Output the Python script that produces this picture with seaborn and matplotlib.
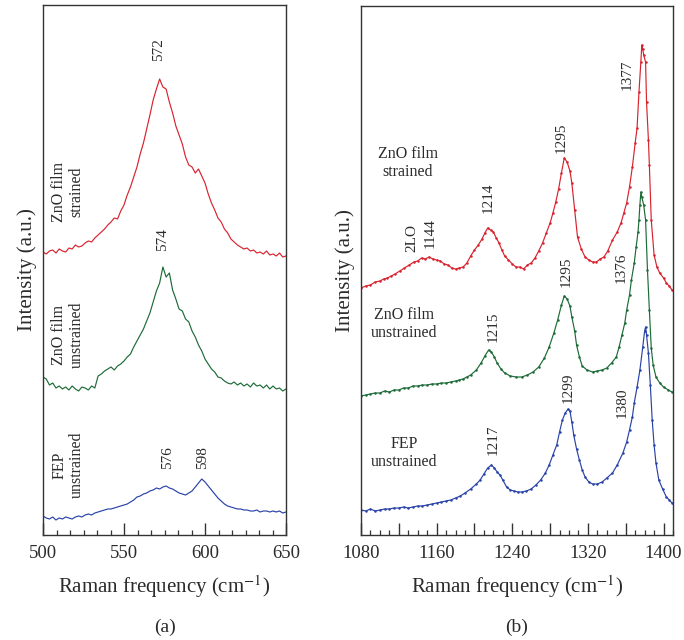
import numpy as np
import pandas as pd
import matplotlib
matplotlib.use("Agg")
import matplotlib.pyplot as plt
from matplotlib.ticker import MultipleLocator, FuncFormatter
import seaborn as sns

# ---------------- data: panel (a) ----------------
a_wave = list(range(500, 651, 2))
a_strained = [283, 281, 284, 285, 282, 286, 284, 283, 287, 286,
              290, 288, 289, 292, 294, 293, 297, 300, 303, 306,
              310, 313, 317, 316, 324, 330, 340, 348, 358, 368,
              381, 392, 406, 420, 435, 446, 456, 448, 446, 433,
              422, 409, 400, 391, 378, 370, 368, 362, 366, 359,
              352, 341, 332, 325, 317, 313, 306, 302, 296, 293,
              290, 288, 286, 287, 284, 285, 282, 283, 281, 284,
              280, 281, 279, 282, 278, 279]
a_unstrained = [158, 156, 150, 152, 147, 149, 146, 148, 145, 149,
                146, 144, 148, 147, 145, 149, 147, 159, 161, 164,
                166, 168, 165, 169, 171, 174, 178, 181, 188, 194,
                200, 206, 214, 222, 233, 244, 252, 268, 258, 262,
                245, 236, 226, 224, 216, 213, 204, 198, 190, 184,
                176, 171, 166, 163, 158, 157, 154, 152, 151, 153,
                150, 152, 149, 151, 148, 152, 149, 150, 147, 150,
                146, 149, 146, 147, 144, 146]
a_fep = [19, 17, 16, 18, 15, 17, 16, 18, 17, 16,
         18, 19, 18, 20, 21, 20, 22, 23, 24, 25,
         26, 26, 27, 28, 29, 30, 31, 33, 35, 38,
         39, 41, 42, 44, 45, 47, 46, 48, 49, 47,
         46, 44, 42, 41, 40, 42, 44, 48, 52, 56,
         53, 49, 45, 41, 37, 34, 31, 29, 28, 27,
         26, 26, 25, 25, 24, 24, 25, 23, 24, 24,
         23, 24, 23, 24, 22, 23]
a_peak_labels = ["572", "574", "576", "598"]
a_sample_labels = ["ZnO film\nstrained", "ZnO film\nunstrained", "FEP\nunstrained"]

# ---------------- data: panel (b) ----------------
b_red_wave = [1080, 1085, 1090, 1095, 1100, 1104, 1108, 1112, 1116, 1121, 1126, 1131, 1136,
              1140, 1144, 1148, 1152, 1156, 1160, 1164, 1168, 1172, 1176, 1180, 1184, 1188,
              1192, 1196, 1200, 1204, 1208, 1211, 1214, 1217, 1220, 1223, 1226, 1229, 1232,
              1236, 1240, 1244, 1248, 1252, 1256, 1260, 1264, 1268, 1272, 1276, 1280, 1283,
              1286, 1289, 1292, 1295, 1298, 1301, 1303, 1306, 1309, 1313, 1317, 1321, 1325,
              1329, 1333, 1337, 1341, 1346, 1351, 1355, 1358, 1361, 1364, 1367, 1370, 1372,
              1374, 1376, 1377, 1378, 1379, 1381, 1382, 1384, 1385, 1387, 1390, 1393, 1396,
              1400, 1403, 1406, 1409]
b_red = [247, 249, 250, 253, 254, 256, 257, 259, 261, 264, 267, 270, 273,
         274, 277, 276, 278, 276, 275, 274, 271, 270, 267, 266, 267, 268,
         272, 279, 285, 290, 296, 302, 307, 305, 303, 297, 292, 285, 279,
         275, 271, 268, 268, 266, 270, 272, 277, 284, 292, 302, 312, 322,
         333, 346, 362, 377, 373, 364, 352, 325, 298, 286, 278, 275, 273,
         273, 276, 278, 284, 295, 303, 312, 322, 332, 348, 368, 392, 407,
         443, 473, 490, 486, 480, 473, 433, 395, 370, 315, 280, 268, 262,
         257, 252, 249, 245]
b_green_wave = [1080, 1085, 1090, 1095, 1100, 1105, 1110, 1115, 1120, 1125, 1130, 1135, 1140,
                1145, 1150, 1155, 1160, 1165, 1170, 1175, 1180, 1184, 1188, 1192, 1196, 1202,
                1207, 1211, 1215, 1218, 1221, 1224, 1228, 1232, 1238, 1244, 1250, 1256, 1262,
                1268, 1274, 1279, 1284, 1288, 1292, 1295, 1298, 1301, 1303, 1306, 1308, 1311,
                1314, 1319, 1325, 1330, 1335, 1340, 1345, 1350, 1353, 1356, 1359, 1361, 1364,
                1366, 1369, 1371, 1373, 1374, 1375, 1376, 1377, 1379, 1381, 1383, 1385, 1387,
                1389, 1392, 1396, 1400, 1405, 1409]
b_green = [139, 140, 141, 142, 142, 144, 143, 145, 145, 147, 147, 149, 149,
           150, 150, 151, 151, 152, 152, 153, 154, 155, 156, 158, 160, 165,
           172, 179, 185, 183, 178, 172, 166, 162, 159, 158, 158, 160, 163,
           168, 177, 188, 202, 215, 230, 239, 236, 229, 218, 204, 190, 178,
           169, 165, 163, 164, 165, 167, 172, 178, 188, 200, 212, 225, 240,
           255, 272, 288, 303, 315, 330, 343, 338, 330, 315, 265, 225, 187,
           170, 158, 152, 148, 145, 143]
b_blue_wave = [1080, 1085, 1090, 1095, 1100, 1105, 1110, 1115, 1120, 1125, 1130, 1135, 1140,
               1145, 1150, 1155, 1160, 1165, 1170, 1175, 1180, 1185, 1190, 1196, 1202, 1206,
               1210, 1214, 1218, 1221, 1224, 1227, 1230, 1234, 1238, 1242, 1246, 1250, 1255,
               1260, 1265, 1270, 1275, 1279, 1283, 1287, 1290, 1293, 1296, 1299, 1301, 1303,
               1305, 1308, 1311, 1314, 1317, 1321, 1325, 1330, 1335, 1340, 1346, 1351, 1357,
               1361, 1364, 1367, 1369, 1372, 1375, 1378, 1380, 1381, 1382, 1384, 1386, 1388,
               1390, 1392, 1395, 1399, 1403, 1406, 1409]
b_blue = [25, 24, 26, 24, 25, 26, 26, 27, 27, 28, 27, 28, 29,
          29, 30, 31, 32, 33, 34, 35, 37, 39, 42, 46, 51, 55,
          61, 67, 70, 67, 63, 60, 55, 48, 45, 44, 43, 43, 44,
          46, 50, 55, 62, 70, 80, 90, 103, 115, 122, 126, 124, 113,
          100, 86, 75, 65, 58, 53, 51, 51, 53, 57, 62, 70, 82,
          93, 105, 118, 132, 148, 165, 188, 204, 208, 200, 182, 150, 115,
          90, 72, 55, 46, 38, 35, 32]
b_peak_labels = ["2LO", "1144", "1214", "1295", "1377",
                 "1215", "1295", "1376", "1217", "1299", "1380"]
b_sample_labels = ["ZnO film\nstrained", "ZnO film\nunstrained", "FEP\nunstrained"]

# ---------------- style ----------------
sns.set_style("ticks")
plt.rcParams["font.family"] = ["Liberation Serif", "DejaVu Serif"]
plt.rcParams["mathtext.fontset"] = "stix"
RED, GREEN, BLUE = "#d8232f", "#1d6b38", "#2a43a8"
TXT = "#2b2b2b"

fig = plt.figure(figsize=(6.84, 6.4), dpi=100)
axA = fig.add_axes([43 / 684, 1 - 535 / 640, (286 - 43) / 684, 530 / 640])
axB = fig.add_axes([361 / 684, 1 - 535 / 640, (673 - 361) / 684, 529 / 640])

dfa = pd.DataFrame({"w": a_wave, "s": a_strained, "u": a_unstrained, "f": a_fep})
for col, c in [("s", RED), ("u", GREEN), ("f", BLUE)]:
    sns.lineplot(data=dfa, x="w", y=col, color=c, linewidth=0.85, ax=axA,
                 estimator=None, sort=False)

for wv, iv, c in [(b_red_wave, b_red, RED), (b_green_wave, b_green, GREEN),
                  (b_blue_wave, b_blue, BLUE)]:
    sns.lineplot(x=wv, y=iv, color=c, linewidth=0.85, ax=axB, estimator=None,
                 sort=False, marker="o", markersize=1.8, markeredgewidth=0,
                 markerfacecolor=c)

axA.set_xlim(500, 650)
axA.set_ylim(0, 530)
axB.set_xlim(1080, 1410)
axB.set_ylim(0, 529)

for ax in (axA, axB):
    ax.set_yticks([])
    ax.set_ylabel("Intensity (a.u.)", fontsize=15, color=TXT, labelpad=4)
    ax.set_xlabel(r"Raman frequency (cm$^{-1}$)", fontsize=15, color=TXT, labelpad=8)
    for s in ax.spines.values():
        s.set_linewidth(1.0)
        s.set_color("#333333")
    ax.tick_params(axis="x", which="major", direction="in", length=8.5, width=1.0,
                   labelsize=13.5, colors="#333333", labelcolor=TXT, pad=7)
    ax.tick_params(axis="x", which="minor", direction="in", length=3.8, width=0.9,
                   colors="#333333")

axA.xaxis.set_major_locator(MultipleLocator(50))
axA.xaxis.set_minor_locator(MultipleLocator(50 / 6))
axB.xaxis.set_major_locator(MultipleLocator(40))
axB.xaxis.set_minor_locator(MultipleLocator(10))
axB.xaxis.set_major_formatter(FuncFormatter(
    lambda v, p: f"{int(round(v))}" if int(round(v - 1080)) % 80 == 0 else ""))

# panel (a) annotations
pk_pos_a = [(571.6, 485), (573.5, 295), (577, 77), (598.8, 77)]
for t, (x, y) in zip(a_peak_labels, pk_pos_a):
    axA.text(x, y, t, rotation=90, ha="center", va="center", fontsize=11, color=TXT)
smp_pos_a = [(515.4, 343), (515.4, 200), (515.4, 70)]
for t, (x, y) in zip(a_sample_labels, smp_pos_a):
    axA.text(x, y, t, rotation=90, ha="center", va="center", fontsize=11.5,
             color=TXT, linespacing=1.1, multialignment="center")

# panel (b) annotations
pk_pos_b = [(1133.9, 297), (1152.9, 302), (1215, 337), (1292, 397), (1361, 460),
            (1219.4, 208), (1297.5, 263), (1355.6, 267), (1219.4, 95), (1299.6, 147),
            (1356.7, 132)]
for t, (x, y) in zip(b_peak_labels, pk_pos_b):
    axB.text(x, y, t, rotation=90, ha="center", va="center", fontsize=11, color=TXT)
smp_pos_b = [(1129.6, 372), (1125.4, 211), (1125.7, 82)]
for t, (x, y) in zip(b_sample_labels, smp_pos_b):
    axB.text(x, y, t, ha="center", va="center", fontsize=11.5, color=TXT,
             linespacing=1.15, multialignment="center")

fig.text(165 / 684, 1 - 627 / 640, "(a)", ha="center", va="center", fontsize=14, color=TXT)
fig.text(517 / 684, 1 - 627 / 640, "(b)", ha="center", va="center", fontsize=14, color=TXT)

fig.savefig("out.png", dpi=100)
